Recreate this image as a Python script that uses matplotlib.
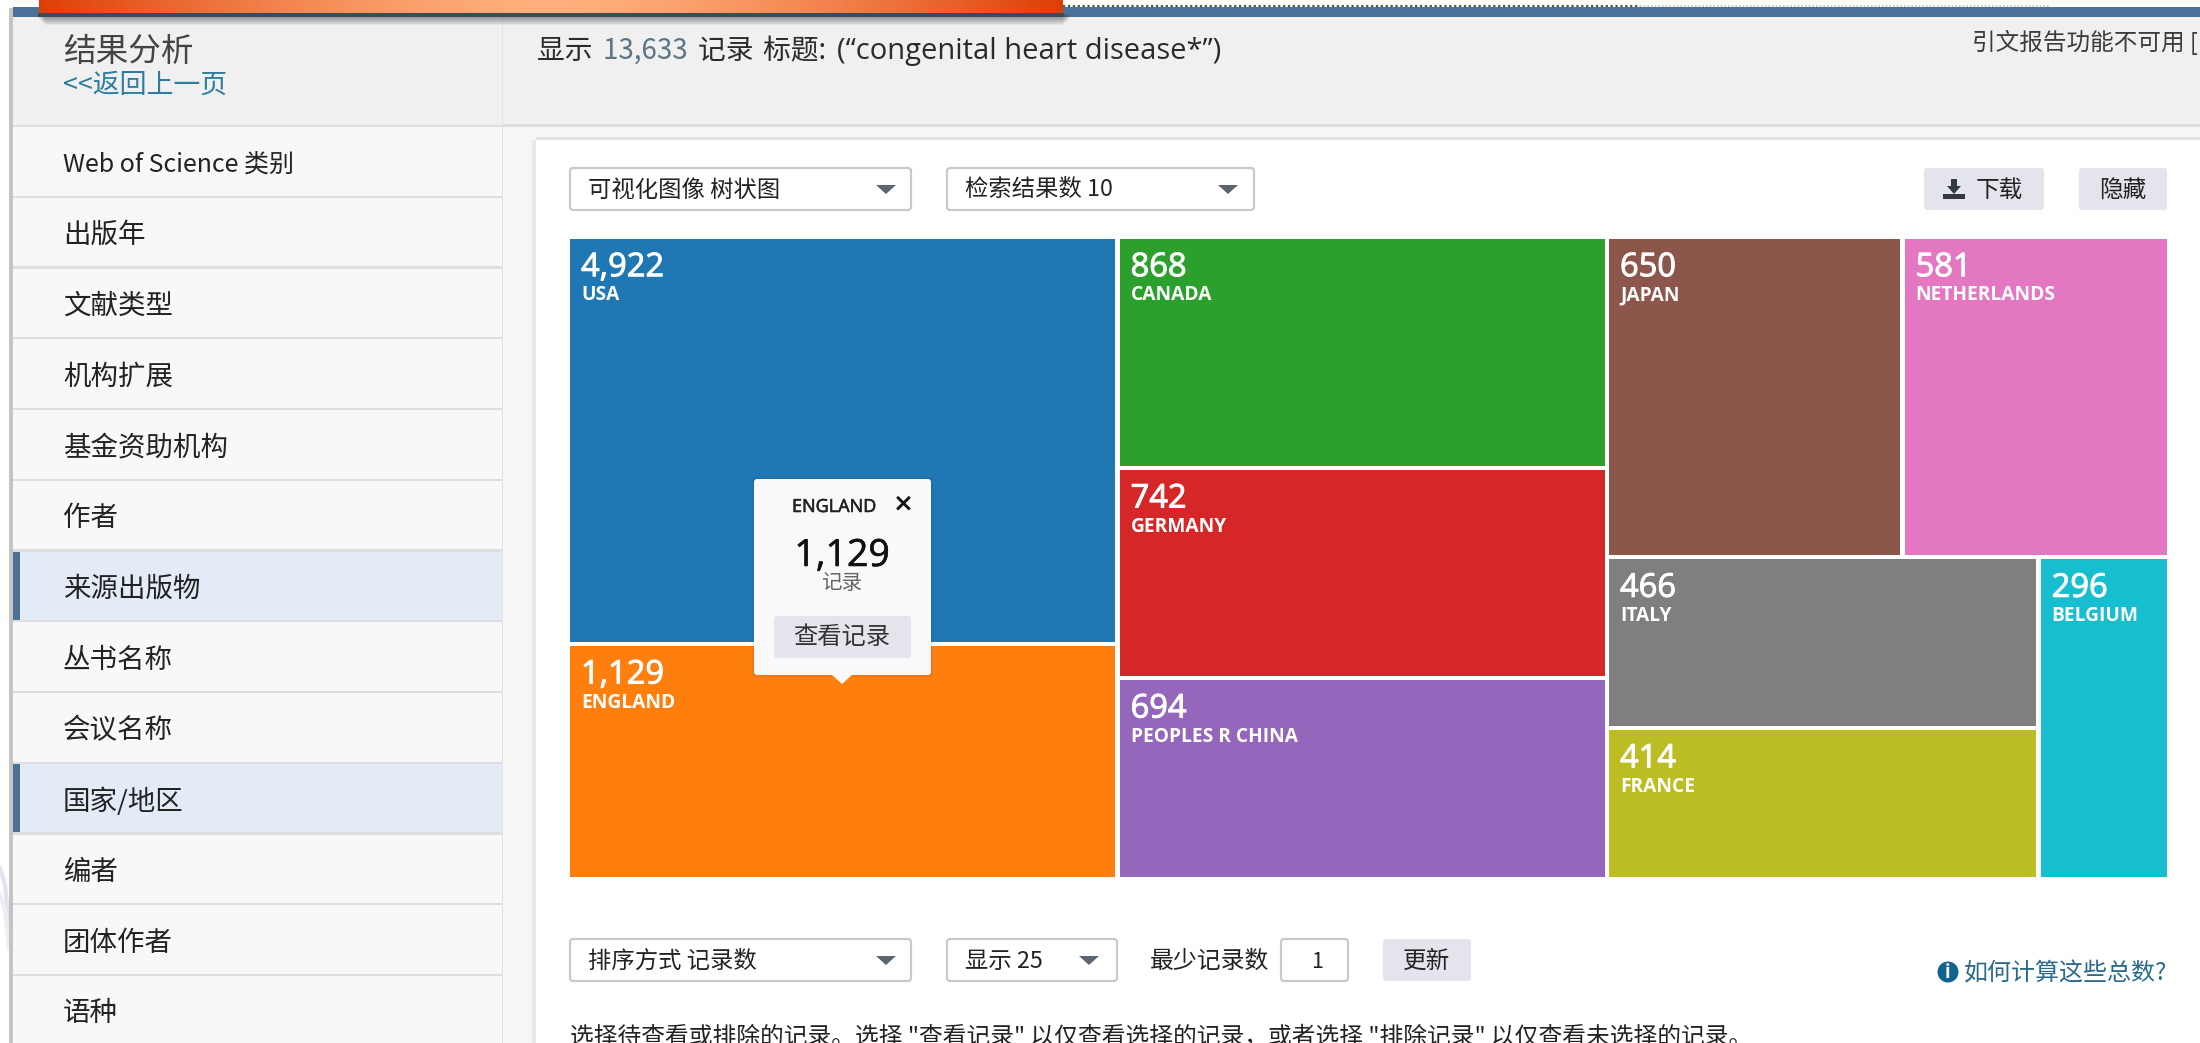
import matplotlib
matplotlib.use('Agg')
import matplotlib.pyplot as plt
import matplotlib.patheffects as pe
import numpy as np
from matplotlib.patches import Rectangle, FancyBboxPatch, Polygon, Circle

plt.rcParams['font.family'] = ['Noto Sans CJK SC', 'DejaVu Sans']
LATIN = ['Open Sans', 'Noto Sans CJK SC', 'DejaVu Sans']

# --- data ---
countries = ['USA', 'ENGLAND', 'CANADA', 'GERMANY', 'PEOPLES R CHINA',
             'JAPAN', 'NETHERLANDS', 'ITALY', 'FRANCE', 'BELGIUM']
records = [4922, 1129, 868, 742, 694, 650, 581, 466, 414, 296]
colors = ['#1f77b4', '#ff7f0e', '#2ca02c', '#d62728', '#9467bd',
          '#8c564b', '#e377c2', '#7f7f7f', '#bcbd22', '#17becf']
menu_items = ['Web of Science 类别', '出版年', '文献类型', '机构扩展', '基金资助机构', '作者',
              '来源出版物', '丛书名称', '会议名称', '国家/地区', '编者', '团体作者', '语种']
selected_items = ['来源出版物', '国家/地区']
total_records = '13,633'
query_field = '标题: '
query = '(“congenital heart disease*”)'
tip_country = 'ENGLAND'
tip_records = 1129

# tiles in the screenshot are not proportional to the counts,
# so the split shares are read off the picture
PLOT_BOX = (570, 238.7, 2171.5, 881.5)
GAP = 4.5
TILE_TREE = ('x', [549.6, 489.4, 562.5], [
    ('y', [407.3, 235.5], ['USA', 'ENGLAND']),
    ('y', [231.3, 210, 201.5], ['CANADA', 'GERMANY', 'PEOPLES R CHINA']),
    ('y', [320.6, 322.2], [
        ('x', [295.6, 266.9], ['JAPAN', 'NETHERLANDS']),
        ('x', [431.7, 130.8], [
            ('y', [170.7, 151.5], ['ITALY', 'FRANCE']),
            'BELGIUM']),
    ]),
])


def layout(node, box, out):
    if isinstance(node, str):
        out[node] = box
        return out
    axis, shares, kids = node
    x0, y0, x1, y1 = box
    span = (x1 - x0) if axis == 'x' else (y1 - y0)
    edges = np.concatenate([[0], np.cumsum(shares)]) / sum(shares) * span
    for i, kid in enumerate(kids):
        if axis == 'x':
            layout(kid, (x0 + edges[i], y0, x0 + edges[i + 1], y1), out)
        else:
            layout(kid, (x0, y0 + edges[i], x1, y0 + edges[i + 1]), out)
    return out


fig = plt.figure(figsize=(22, 10.43), dpi=100)
ax = fig.add_axes([0, 0, 1, 1])
ax.set_xlim(0, 2200)
ax.set_ylim(1043, 0)
ax.axis('off')


def rect(x0, y0, x1, y1, fc, z=1, **kw):
    ax.add_patch(Rectangle((x0, y0), x1 - x0, y1 - y0, fc=fc, ec='none', zorder=z, **kw))


def rbox(x0, y0, x1, y1, fc, ec='none', z=3):
    ax.add_patch(FancyBboxPatch((x0, y0), x1 - x0, y1 - y0, boxstyle='round,pad=0,rounding_size=3',
                                fc=fc, ec=ec, lw=1.6, zorder=z, mutation_aspect=1))


def label(x, y, s, size=18, color='#222222', ha='left', z=6, **kw):
    return ax.text(x, y, s, fontsize=size, color=color, ha=ha, va='center', zorder=z, **kw)


def heavy(t, w=0.5):
    t.set_path_effects([pe.withStroke(linewidth=w, foreground=t.get_color())])
    return t


def dropdown(x0, y0, x1, y1, s, arrow_x):
    rbox(x0, y0, x1, y1, 'white', '#c9c9c9')
    label(x0 + 18, (y0 + y1) / 2 + 1, s, 16.8)
    cy = (y0 + y1) / 2
    ax.add_patch(Polygon([(arrow_x - 10, cy - 4), (arrow_x + 10, cy - 4), (arrow_x, cy + 5)],
                         fc='#5c6670', ec='none', zorder=6))


# --- page background ---
rect(0, 0, 2200, 1043, 'white', 0)
rect(503, 17, 2200, 126, '#f0f0f0')
rect(503, 126, 2200, 140, '#f6f6f6')
rect(503, 140, 536, 1043, '#f6f6f6')
rect(532, 140, 536, 1043, '#e9e9e9', 1.2)
rect(536, 137, 2200, 140, '#e4e4e4', 1.2)
rect(503, 124, 2200, 126.5, '#dcdcdc', 1.5)
rect(9, 8, 13, 1043, '#c4c4c4')
rect(13, 17, 503, 1043, '#f8f8f8')
rect(13, 17, 503, 126, '#f0f0f0', 1.1)
rect(501.5, 17, 503, 1043, '#e2e2e2', 1.5)

# faint swoosh at the bottom left
ax.plot([0, 5, 9], [868, 885, 925], color='#e4e2f0', lw=3, zorder=0.5)
ax.plot([0, 5, 9], [895, 910, 948], color='#eeedf5', lw=3, zorder=0.5)

# --- top bars ---
rect(13, 7, 2200, 17, '#4a7299', 2)
ax.plot([1063, 1640], [6, 6], color='#555555', lw=1.6, ls=(0, (1, 1.2)), zorder=2)
ax.plot([1640, 2050], [6, 6], color='#c4c4c4', lw=1.2, ls=(0, (1, 1.2)), zorder=2)
for i in range(8):
    rect(38 + i, 14, 1070 - i, 18 + i, '#33383f', 2.5 + i * 0.01, alpha=0.07)
rect(38, 13, 1064, 16.5, '#3d4b57', 3)
ramp = np.abs(np.linspace(-1, 1, 512)) ** 1.5
ramp_rgb = (1 - ramp)[:, None] * np.array([255, 176, 124]) + ramp[:, None] * np.array([222, 62, 6])
ax.imshow(ramp_rgb[None, :, :] / 255, extent=(39, 1063, 13.5, 0), aspect='auto', zorder=4)
ax.set_xlim(0, 2200)
ax.set_ylim(1043, 0)

# --- sidebar ---
label(63, 52, '结果分析', 23.5, '#444444')
label(63, 85, '<<返回上一页', 19.4, '#2c7d9e')
row_top = 126
row_h = 70.75
for i, item in enumerate(menu_items):
    y0 = row_top + i * row_h
    if item in selected_items:
        rect(13, y0, 501.5, y0 + row_h, '#e3ecf6', 1.2)
        rect(13, y0, 20, y0 + row_h, '#4a7299', 1.4)
    rect(13, y0 - 1.2, 501.5, y0 + 1.2, '#dedede', 1.6)
    size = 18 if item.startswith('Web') else 19.8
    label(63, y0 + row_h / 2 + 3.5, item, size, '#222222')

# --- header ---
r = fig.canvas.get_renderer()
x = 537
for s, col, fam in [('显示 ', '#2b2b2b', None), (total_records + ' ', '#5b7686', None),
                    ('记录 ', '#2b2b2b', None), (query_field, '#2b2b2b', None),
                    (query, '#2b2b2b', LATIN)]:
    size = 21 if fam else 20
    t = label(x, 51, s, size, col, family=fam) if fam else label(x, 51, s, size, col)
    x = ax.transData.inverted().transform(t.get_window_extent(r))[1, 0] + 4
label(1972, 42, '引文报告功能不可用 [', 17, '#3c3c3c', clip_on=True)

# --- controls ---
dropdown(570, 168, 911, 210, '可视化图像 树状图', 886)
dropdown(947, 168, 1254, 210, '检索结果数 10', 1228)
rbox(1924, 168, 2044, 210, '#e4e5ec')
rbox(2079, 168, 2167, 210, '#e4e5ec')
label(1976, 190, '下载', 17)
label(2123, 190, '隐藏', 17, ha='center')
ax.add_patch(Polygon([(1951, 179), (1957, 179), (1957, 186), (1961, 186), (1954, 194), (1947, 186), (1951, 186)],
                     fc='#333a44', ec='none', zorder=6))
rect(1943, 194, 1965, 199, '#333a44', 6)

dropdown(570, 939, 911, 981, '排序方式 记录数', 886)
dropdown(947, 939, 1117, 981, '显示 25', 1089)
label(1150, 961, '最少记录数', 17.2)
rbox(1281, 939, 1348, 981, 'white', '#c9c9c9')
label(1317, 962, '1', 15.5, ha='center')
rbox(1383, 939, 1471, 981, '#e4e5ec')
label(1427, 961, '更新', 17, ha='center')
ax.add_patch(Circle((1948, 972), 10.5, fc='#13638f', ec='none', zorder=6))
label(1948, 972, 'i', 13, 'white', ha='center', z=7, fontweight='bold')
label(1964, 973, '如何计算这些总数?', 17.3, '#2a6a8a')
label(570, 1037, '选择待查看或排除的记录。选择 "查看记录" 以仅查看选择的记录，或者选择 "排除记录" 以仅查看未选择的记录。',
      17.1, '#222222', clip_on=True)

# --- treemap ---
boxes = layout(TILE_TREE, PLOT_BOX, {})
for name, val, col in zip(countries, records, colors):
    x0, y0, x1, y1 = boxes[name]
    rect(x0, y0, x1 - GAP, y1 - GAP, col, 2)
    heavy(label(x0 + 11, y0 + 29, f'{val:,}', 23.5, 'white', family=LATIN), 0.7)
    label(x0 + 11, y0 + 56.5, name, 13.8, 'white', family=LATIN, fontweight='bold')

# --- tooltip ---
for i in range(4):
    rbox(754 - i, 479 - i, 931 + i, 675 + i, (0.2, 0.2, 0.2, 0.03), z=7)
rbox(754, 479, 931, 675, '#f9f9fb', z=8)
ax.add_patch(Polygon([(832, 675), (852, 675), (842, 684)], fc='#f9f9fb', ec='none', zorder=8))
heavy(label(792, 507, tip_country, 13, '#222222', z=9, family=LATIN), 0.4)
label(903, 503, '×', 18, '#111111', ha='center', z=9, fontweight='bold', family=['DejaVu Sans'])
heavy(label(842, 556, f'{tip_records:,}', 27, '#111111', ha='center', z=9, family=LATIN), 0.4)
label(842, 583, '记录', 14.8, '#666666', ha='center', z=9)
rbox(774, 616, 911, 658, '#e4e5ec', z=9)
label(842, 637, '查看记录', 17.5, '#333333', ha='center', z=10)

fig.savefig('out.png', dpi=100)
